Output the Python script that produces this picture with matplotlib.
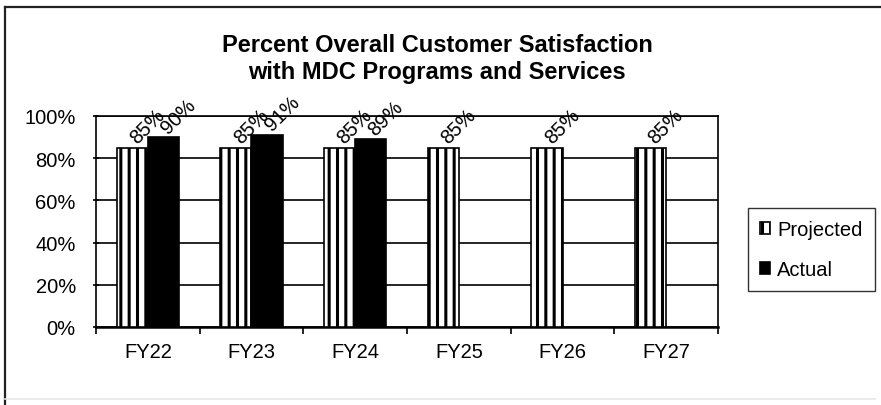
import numpy as np
import matplotlib.pyplot as plt
from matplotlib.lines import Line2D

plt.rcParams['font.family'] = ['Liberation Sans', 'DejaVu Sans']
plt.rcParams['hatch.linewidth'] = 2.2

# Data
years = ['FY22', 'FY23', 'FY24', 'FY25', 'FY26', 'FY27']
projected = [85, 85, 85, 85, 85, 85]
actual = [90, 91, 89]
yticks = [0, 20, 40, 60, 80, 100]

fig = plt.figure(figsize=(8.81, 4.06), dpi=100)
ax = fig.add_axes([96 / 881, 1 - 328 / 406, (718 - 96) / 881, (328 - 117) / 406])

x = np.arange(len(years))
w = 0.3

# bars
pb = ax.bar(x - w / 2, projected, w, color='white', edgecolor='black',
            hatch='||', linewidth=1.2, label='Projected', zorder=3)
ab = ax.bar(x[:len(actual)] + w / 2, actual, w, color='black',
            edgecolor='black', linewidth=1.2, label='Actual', zorder=3)

# rotated data labels
for bars, vals in [(pb, projected), (ab, actual)]:
    for b, v in zip(bars, vals):
        ax.annotate(f'{v}%', (b.get_x() + b.get_width() / 2, v),
                    xytext=(5.5, 0.5), textcoords='offset points',
                    rotation=45, rotation_mode='anchor',
                    ha='left', va='bottom', fontsize=14.5, zorder=4)

ax.set_xlim(-0.5, len(years) - 0.5)
ax.set_ylim(0, 100)
ax.set_yticks(yticks)
ax.set_yticklabels([f'{t}%' for t in yticks], fontsize=14.5)
ax.set_xticks(x)
ax.set_xticklabels(years, fontsize=14.5)
ax.set_xticks(np.arange(len(years) + 1) - 0.5, minor=True)
ax.tick_params(axis='x', which='major', length=0, pad=11)
ax.tick_params(axis='x', which='minor', length=5, width=1.2, direction='out')
ax.tick_params(axis='y', length=5, width=1.2, direction='inout', pad=12)
ax.yaxis.grid(True, color='black', linewidth=1.2, zorder=0)
ax.set_axisbelow(True)
for s in ax.spines.values():
    s.set_linewidth(1.2)
    s.set_color('black')
ax.spines['bottom'].set_linewidth(1.8)

fig.text(437 / 881, 1 - 59 / 406,
         'Percent Overall Customer Satisfaction\nwith MDC Programs and Services',
         ha='center', va='center', fontsize=17, fontweight='bold',
         linespacing=1.2)

leg = fig.legend(handles=[pb, ab], loc='upper left',
                 bbox_to_anchor=(748 / 881, 1 - 209 / 406),
                 fontsize=14.5, frameon=True, fancybox=False, shadow=False,
                 edgecolor='black', handlelength=0.5, handleheight=0.5,
                 handletextpad=0.35, labelspacing=1.05, borderpad=0.6,
                 borderaxespad=0)
leg.get_frame().set_linewidth(1.0)

# outer frame of the scanned chart
fig.add_artist(Line2D([5 / 881, 5 / 881], [0, 1 - 8 / 406], color='#222222', lw=1.6))
fig.add_artist(Line2D([5 / 881, 1], [1 - 8 / 406, 1 - 8 / 406], color='#222222', lw=1.6))
fig.add_artist(Line2D([5 / 881, 875 / 881], [1 - 400 / 406, 1 - 400 / 406], color='#e6e6e6', lw=1.2))

fig.savefig('out.png', dpi=100)
